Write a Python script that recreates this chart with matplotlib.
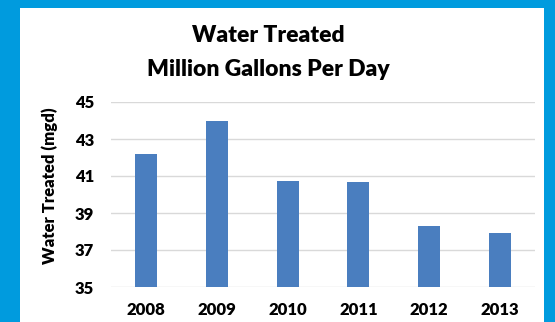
import matplotlib
matplotlib.use("Agg")
import matplotlib.pyplot as plt
from matplotlib.patches import Rectangle

# annual plant output, million gallons per day
years = ["2008", "2009", "2010", "2011", "2012", "2013"]
mgd = [42.2, 44.0, 40.75, 40.7, 38.3, 37.9]
yticks = [35, 37, 39, 41, 43, 45]

W, H = 555, 322
plt.rcParams["font.family"] = ["Lato", "DejaVu Sans"]
plt.rcParams["font.weight"] = "bold"

fig = plt.figure(figsize=(W / 100, H / 100), dpi=100)
fig.patch.set_facecolor("#009BDE")

# white card inside the blue frame
fig.patches.append(Rectangle((20 / W, 0), 524 / W, 1 - 8 / H,
                             transform=fig.transFigure, facecolor="white",
                             edgecolor="none", zorder=-1))

ax = fig.add_axes([111 / W, 1 - 287 / H, (535 - 111) / W, (287 - 102) / H])
ax.set_zorder(2)
ax.set_facecolor("none")
x = range(len(years))
ax.bar(x, mgd, width=0.31, color="#4A7EBF", zorder=3)
ax.set_xlim(-0.5, len(years) - 0.5)
ax.set_ylim(35, 45)
ax.set_yticks(yticks)
ax.set_xticks(list(x))
ax.set_xticklabels(years)
ax.grid(axis="y", color="#D9D9D9", linewidth=1, zorder=0)
for s in ax.spines.values():
    s.set_visible(False)
ax.tick_params(length=0, labelsize=12, colors="black")
ax.tick_params(axis="y", pad=12)
ax.tick_params(axis="x", pad=11)
for lbl in ax.get_xticklabels() + ax.get_yticklabels():
    lbl.set_fontweight("heavy")
ax.set_ylabel("Water Treated (mgd)", fontsize=12, fontweight="heavy")
ax.yaxis.set_label_coords(-0.125, 0.55)

fig.text(268 / W, 1 - 35 / H, "Water Treated", ha="center", va="center",
         fontsize=16.5, fontweight="heavy", zorder=3)
fig.text(268 / W, 1 - 70 / H, "Million Gallons Per Day", ha="center", va="center",
         fontsize=16.5, fontweight="heavy", zorder=3)

fig.savefig("out.png", dpi=100, facecolor=fig.get_facecolor())
